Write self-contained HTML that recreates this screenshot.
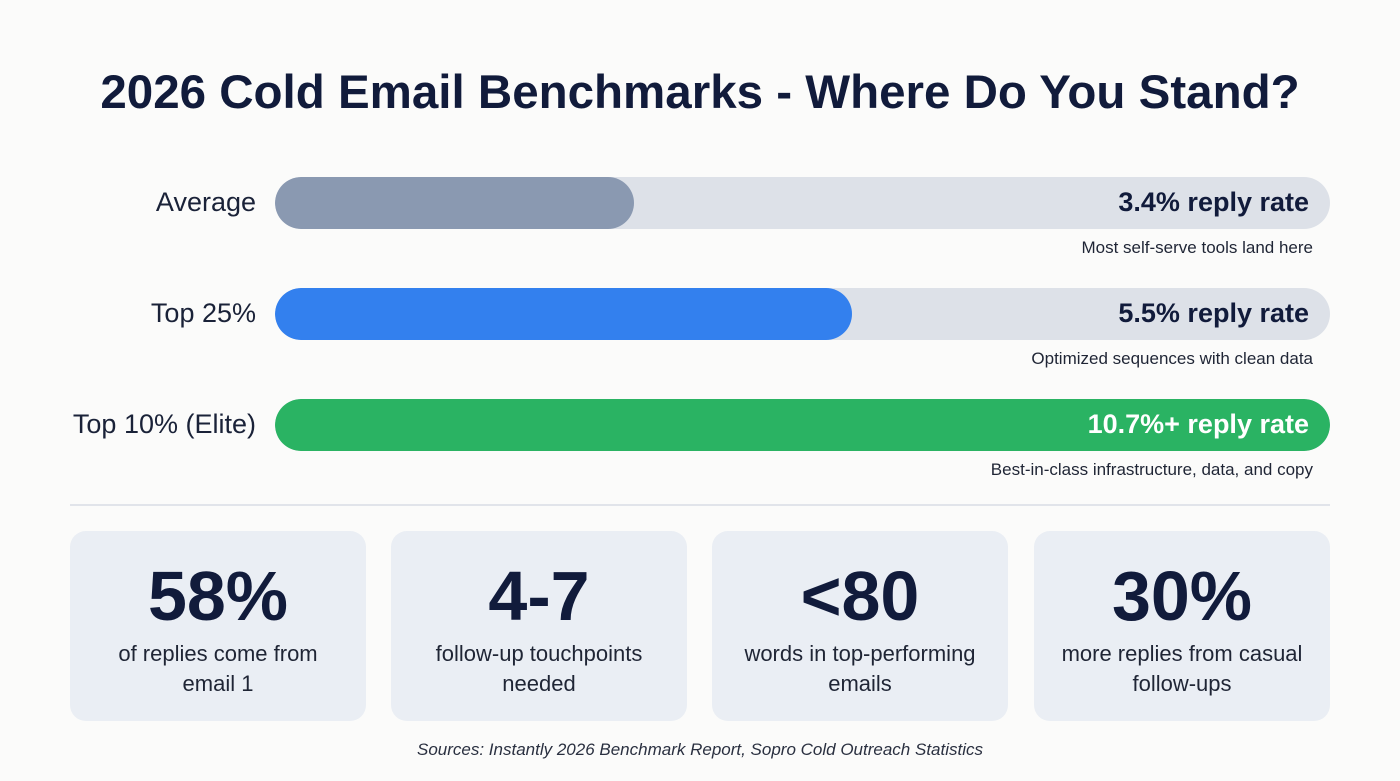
<!DOCTYPE html>
<html><head><meta charset="utf-8"><style>
body{margin:0;width:1400px;height:781px;background:#fbfbfa;font-family:"Liberation Sans",sans-serif;position:relative;overflow:hidden;color:#101a3a}
.abs{position:absolute}
#title{left:0;width:1400px;top:65px;text-align:center;font-size:47.5px;font-weight:bold;color:#111b3b}
.lbl{right:1144px;font-size:27px;color:#1a2238;text-align:right;white-space:nowrap}
.track{left:275px;width:1055px;height:52px;border-radius:26px;background:#dde1e8;overflow:hidden}
.fill{position:absolute;left:0;top:0;height:52px;border-radius:26px}
.val{right:91px;font-size:27px;font-weight:bold;white-space:nowrap}
.sub{right:87px;font-size:17px;color:#1f2535;white-space:nowrap}
.card{width:296px;height:190px;top:531px;border-radius:16px;background:#eaeef4;text-align:center}
.big{position:absolute;left:0;right:0;top:25px;font-size:70px;font-weight:bold;color:#111b3b}
.ct{position:absolute;left:0;right:0;top:108px;font-size:22px;line-height:30px;color:#1f2535}
</style></head><body>
<div id="title" class="abs">2026 Cold Email Benchmarks - Where Do You Stand?</div>
<div id="bars"></div>
<div class="abs" style="left:70px;width:1260px;top:504px;height:2px;background:#e1e4ea"></div>
<div class="abs card" style="left:70px"><div class="big">58%</div><div class="ct">of replies come from<br>email 1</div></div>
<div class="abs card" style="left:391px"><div class="big">4-7</div><div class="ct">follow-up touchpoints<br>needed</div></div>
<div class="abs card" style="left:712px"><div class="big">&lt;80</div><div class="ct">words in top-performing<br>emails</div></div>
<div class="abs card" style="left:1034px"><div class="big">30%</div><div class="ct">more replies from casual<br>follow-ups</div></div>
<div class="abs" style="left:0;width:1400px;top:740px;text-align:center;font-size:17px;font-style:italic;color:#2a3040">Sources: Instantly 2026 Benchmark Report, Sopro Cold Outreach Statistics</div>
<script>
const categories=["Average","Top 25%","Top 10% (Elite)"];
const values=[3.4,5.47,10.7];
const valueLabels=["3.4% reply rate","5.5% reply rate","10.7%+ reply rate"];
const notes=["Most self-serve tools land here","Optimized sequences with clean data","Best-in-class infrastructure, data, and copy"];
const colors=["#8a99b1","#3380ee","#2ab363"];
const maxV=10, trackW=1055;
function xScale(v){return Math.min(v/maxV,1)*trackW;}
const root=document.getElementById('bars');
categories.forEach((c,i)=>{
  const top=177+i*111;
  const l=document.createElement('div');l.className='abs lbl';l.style.top=(top+10)+'px';l.textContent=c;
  
  
  root.appendChild(l);
  const t=document.createElement('div');t.className='abs track';t.style.top=top+'px';
  
  
  const f=document.createElement('div');f.className='fill';f.style.width=xScale(values[i])+'px';f.style.background=colors[i];
  
  
  t.appendChild(f);root.appendChild(t);
  const v=document.createElement('div');v.className='abs val';v.style.top=(top+10)+'px';v.textContent=valueLabels[i];
  v.style.color=values[i]>=maxV?'#ffffff':'#111b3b';
  
  
  root.appendChild(v);
  const s=document.createElement('div');s.className='abs sub';s.style.top=(top+61)+'px';s.textContent=notes[i];
  
  
  root.appendChild(s);
});
</script>
</body></html>
